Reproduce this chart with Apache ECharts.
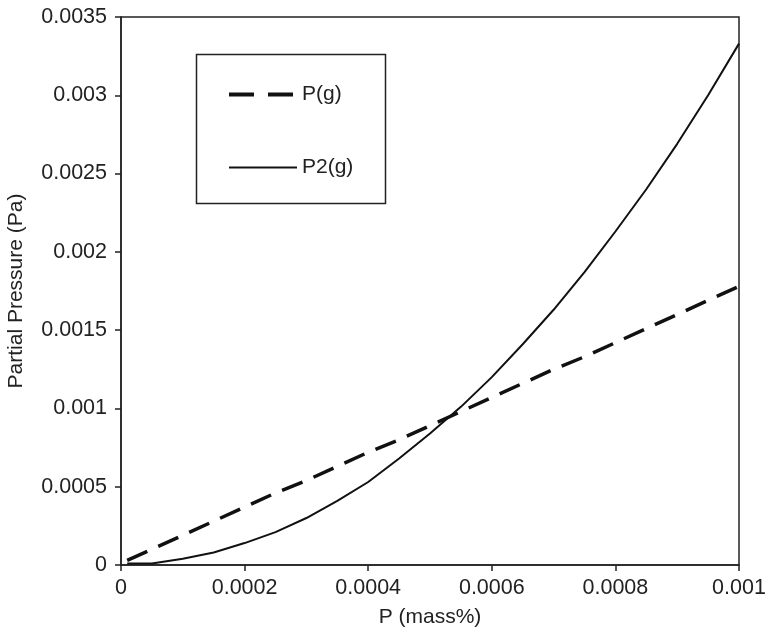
<!DOCTYPE html>
<html>
<head>
<meta charset="utf-8">
<script src="https://cdn.jsdelivr.net/npm/echarts@6/dist/echarts.min.js"></script>
<style>html,body{margin:0;padding:0;background:#fff;}#c{width:768px;height:631px;}</style>
</head>
<body>
<div id="c"></div>
<script>
var xValues = [0.00001, 0.00005, 0.0001, 0.00015, 0.0002, 0.00025, 0.0003, 0.00035, 0.0004, 0.00045, 0.0005, 0.00055, 0.0006, 0.00065, 0.0007, 0.00075, 0.0008, 0.00085, 0.0009, 0.00095, 0.001];
var pG  = [0.00003, 0.0001, 0.00019, 0.00028, 0.00037, 0.00046, 0.00054, 0.00063, 0.00072, 0.0008, 0.00089, 0.00098, 0.00107, 0.00116, 0.00125, 0.00133, 0.00142, 0.00151, 0.0016, 0.00169, 0.00178];
var p2G = [0.00001, 0.00001, 0.00004, 0.00008, 0.00014, 0.00021, 0.0003, 0.00041, 0.00053, 0.00068, 0.00084, 0.00101, 0.0012, 0.00141, 0.00163, 0.00187, 0.00213, 0.0024, 0.00269, 0.003, 0.00333];
var xTickLabels = {0: '0', 0.0002: '0.0002', 0.0004: '0.0004', 0.0006: '0.0006', 0.0008: '0.0008', 0.001: '0.001'};
var yTickLabels = {0: '0', 0.0005: '0.0005', 0.001: '0.001', 0.0015: '0.0015', 0.002: '0.002', 0.0025: '0.0025', 0.003: '0.003', 0.0035: '0.0035'};

function pairs(xs, ys) { return xs.map(function (x, i) { return [x, ys[i]]; }); }
function fmt(map) { return function (v) { var k = Math.round(v * 1e5) / 1e5; return map[k] !== undefined ? map[k] : ''; }; }

var FONT = '"Liberation Sans", Arial, sans-serif';
var chart = echarts.init(document.getElementById('c'));
chart.setOption({
  backgroundColor: '#fff',
  animation: false,
  grid: { left: 121, right: 29, top: 17, bottom: 66, show: true, borderColor: '#222', borderWidth: 1.5,
          outerBoundsMode: 'none', containLabel: false },
  xAxis: {
    type: 'value', min: 0, max: 0.001, interval: 0.0002,
    name: 'P (mass%)', nameLocation: 'middle', nameGap: 42,
    nameTextStyle: { fontFamily: FONT, fontSize: 21, color: '#222' },
    axisLine: { show: true, lineStyle: { color: '#222', width: 1.5 } },
    axisTick: { show: true, length: 6, lineStyle: { color: '#222', width: 1.5 } },
    axisLabel: { fontFamily: FONT, fontSize: 21.5, color: '#222', margin: 12, formatter: fmt(xTickLabels) },
    splitLine: { show: false }
  },
  yAxis: {
    type: 'value', min: 0, max: 0.0035, interval: 0.0005,
    name: 'Partial Pressure (Pa)', nameLocation: 'middle', nameGap: 94,
    nameTextStyle: { fontFamily: FONT, fontSize: 21, color: '#222' },
    axisLine: { show: true, lineStyle: { color: '#222', width: 1.5 } },
    axisTick: { show: true, length: 6, lineStyle: { color: '#222', width: 1.5 } },
    axisLabel: { fontFamily: FONT, fontSize: 21.5, color: '#222', margin: 14, formatter: fmt(yTickLabels) },
    splitLine: { show: false }
  },
  legend: {
    orient: 'vertical', left: 222, top: 79, itemWidth: 68, itemHeight: 14, itemGap: 52,
    itemStyle: { opacity: 0 },
    textStyle: { fontFamily: FONT, fontSize: 21, color: '#222', lineHeight: 21, padding: [0, 0, 0, 0] },
    data: [
      { name: 'P(g)', lineStyle: { width: 4, type: [25, 14], color: '#111' } },
      { name: 'P2(g)', lineStyle: { width: 2, type: 'solid', color: '#111' } }
    ]
  },
  graphic: [{
    type: 'rect', left: 194, top: 52, z: 10,
    shape: { width: 189, height: 149 },
    style: { fill: 'none', stroke: '#222', lineWidth: 1.5 }
  }],
  series: [
    { name: 'P(g)', type: 'line', data: pairs(xValues, pG), symbol: 'none', smooth: false,
      lineStyle: { color: '#111', width: 3.5, type: [22, 12] }, itemStyle: { color: '#111' } },
    { name: 'P2(g)', type: 'line', data: pairs(xValues, p2G), symbol: 'none', smooth: false,
      lineStyle: { color: '#111', width: 2, type: 'solid' }, itemStyle: { color: '#111' } }
  ]
});
</script>
</body>
</html>
